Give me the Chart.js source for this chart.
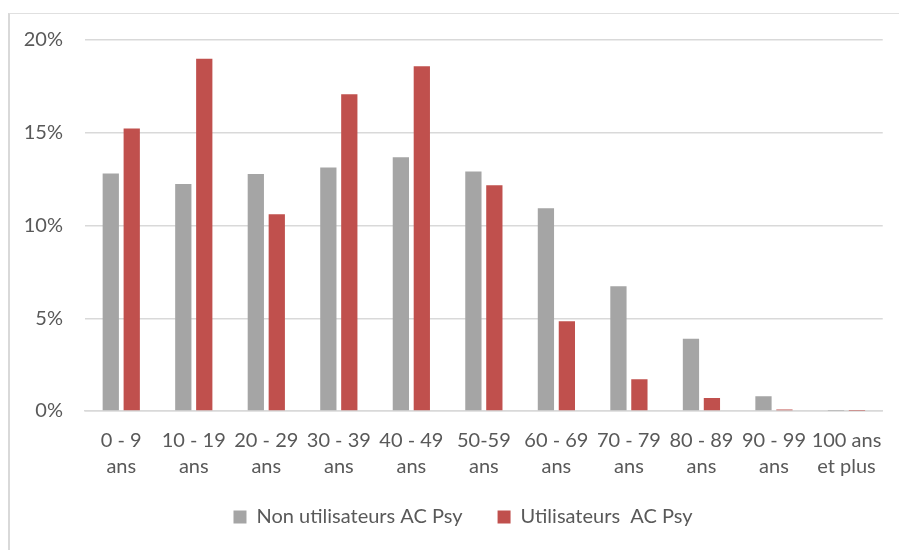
<!DOCTYPE html>
<html>
<head>
<meta charset="utf-8">
<script src="https://cdn.jsdelivr.net/npm/chart.js@4/dist/chart.umd.min.js"></script>
<style>
  html, body { margin: 0; padding: 0; background: #ffffff; }
  #wrap { position: relative; width: 899px; height: 550px; overflow: hidden; }
  #frame { position: absolute; left: 8px; top: 13px; right: 0; bottom: 0;
           border-left: 2px solid #d9d9d9; border-top: 1px solid #e0e0e0; }
  canvas { position: absolute; left: 0; top: 0; }
</style>
</head>
<body>
<div id="wrap">
  <div id="frame"></div>
  <canvas id="c" width="899" height="550"></canvas>
</div>
<script>
// Age groups (two-line labels)
const categories = [
  ["0 - 9", "ans"], ["10 - 19", "ans"], ["20 - 29", "ans"], ["30 - 39", "ans"],
  ["40 - 49", "ans"], ["50-59", "ans"], ["60 - 69", "ans"], ["70 - 79", "ans"],
  ["80 - 89", "ans"], ["90 - 99", "ans"], ["100 ans", "et plus"]
];

// Share of each age group, in percent
const nonUtilisateurs = [12.8, 12.24, 12.77, 13.13, 13.68, 12.91, 10.93, 6.73, 3.9, 0.79, 0.02];
const utilisateurs    = [15.23, 18.99, 10.61, 17.07, 18.59, 12.17, 4.84, 1.71, 0.7, 0.08, 0.01];

const seriesNames = ["Non utilisateurs AC Psy", "Utilisateurs  AC Psy"];
const yTicks = [0, 5, 10, 15, 20];

const textColor = "#595959";
const fontFamily = "Lato, 'Open Sans', sans-serif";

// Move the legend row: a little to the right (centred under the frame) and up
const legendShift = {
  id: "legendShift",
  afterLayout(chart) {
    const l = chart.legend;
    if (l) {
      l.left += 21; l.right += 21;
      l.top -= 6; l.bottom -= 6;
    }
  }
};

new Chart(document.getElementById("c"), {
  type: "bar",
  data: {
    labels: categories,
    datasets: [
      { label: seriesNames[0], data: nonUtilisateurs, backgroundColor: "#a5a5a5",
        categoryPercentage: 0.578, barPercentage: 0.776 },
      { label: seriesNames[1], data: utilisateurs, backgroundColor: "#c0504d",
        categoryPercentage: 0.578, barPercentage: 0.776 }
    ]
  },
  plugins: [legendShift],
  options: {
    responsive: false,
    devicePixelRatio: 1,
    animation: false,
    layout: { padding: { left: 0, right: 15, top: 40, bottom: 12 } },
    plugins: {
      tooltip: { enabled: false },
      legend: {
        position: "bottom",
        maxHeight: 60,
        labels: {
          boxWidth: 13, boxHeight: 13, padding: 35,
          color: textColor,
          font: { family: fontFamily, size: 20 }
        }
      }
    },
    scales: {
      x: {
        grid: { display: false, drawTicks: false },
        border: { display: true, color: "#d9d9d9", width: 1.5 },
        ticks: {
          color: textColor, padding: 17, maxRotation: 0, autoSkip: false,
          font: { family: fontFamily, size: 20, lineHeight: 1.3 }
        },
        afterFit: (s) => { s.height = 67; }
      },
      y: {
        min: 0, max: 20,
        afterBuildTicks: (s) => { s.ticks = yTicks.map(v => ({ value: v })); },
        grid: { color: "#d9d9d9", lineWidth: 1.5, drawTicks: false },
        border: { display: false },
        ticks: {
          color: textColor, padding: 22,
          font: { family: fontFamily, size: 20 },
          callback: (v) => v + "%"
        },
        afterFit: (s) => { s.width = 85; }
      }
    }
  }
});
</script>
</body>
</html>
